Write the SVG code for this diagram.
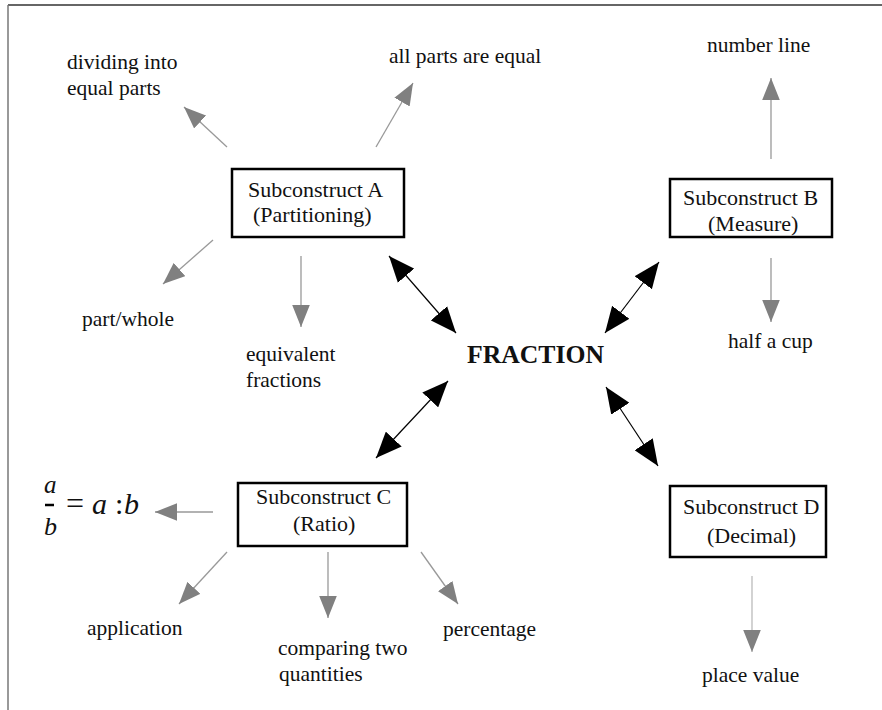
<svg xmlns="http://www.w3.org/2000/svg" width="882" height="710" viewBox="0 0 882 710" font-family="'Liberation Serif', 'Times New Roman', Times, serif">
<style>
text{fill:#111}
.lbl{font-size:21.5px}
.box{font-size:22px}
.fr{font-size:25.7px;font-weight:bold}
.it{font-style:italic}
rect{fill:#fff;stroke:#000;stroke-width:2.5}
.g{stroke:#999;stroke-width:1.3;fill:none;marker-end:url(#gh)}
.b{stroke:#000;stroke-width:1.2;fill:none;marker-start:url(#bh);marker-end:url(#bh)}
</style>
<defs>
<marker id="gh" markerUnits="userSpaceOnUse" markerWidth="22" markerHeight="18" refX="20" refY="8" orient="auto" viewBox="0 0 20 16">
<path d="M0,0 L20,8 L0,16 Z" fill="#808080"/>
</marker>
<marker id="bh" markerUnits="userSpaceOnUse" markerWidth="26" markerHeight="22" refX="24" refY="10" orient="auto-start-reverse" viewBox="0 0 24 20">
<path d="M0,0 L24,10 L0,20 Z" fill="#000"/>
</marker>
</defs>
<g id="frame">
<line x1="8" y1="5" x2="882" y2="5" stroke="#333" stroke-width="1.5"/>
<line x1="8" y1="5" x2="8" y2="710" stroke="#777" stroke-width="1.5"/>
</g>
<g id="connectors">
<line class="g" x1="227" y1="147" x2="184" y2="107"/>
<line class="g" x1="376" y1="147" x2="413" y2="83"/>
<line class="g" x1="213" y1="240" x2="163" y2="284"/>
<line class="g" x1="301" y1="256" x2="301" y2="327"/>
<line class="g" x1="771" y1="159" x2="771" y2="78"/>
<line class="g" x1="771" y1="258" x2="771" y2="322"/>
<line class="g" x1="213" y1="512" x2="155" y2="512"/>
<line class="g" x1="227" y1="552" x2="179" y2="604"/>
<line class="g" x1="328" y1="552" x2="328" y2="618"/>
<line class="g" x1="421" y1="552" x2="458" y2="604"/>
<line class="g" x1="752" y1="576" x2="752" y2="652" style="stroke:#bbb"/>
<line class="b" x1="389" y1="256" x2="456" y2="333"/>
<line class="b" x1="659" y1="262" x2="605" y2="333"/>
<line class="b" x1="448" y1="381" x2="376" y2="458"/>
<line class="b" x1="606" y1="387" x2="658" y2="466"/>
</g>
<g id="fraction"><text class="fr" x="467" y="363">FRACTION</text></g>
<g id="subA">
<rect x="232" y="169" width="172" height="68"/>
<text class="box" x="248" y="197">Subconstruct A</text>
<text class="box" x="253" y="222">(Partitioning)</text>
</g>
<g id="subB">
<rect x="670" y="179" width="162" height="58"/>
<text class="box" x="683" y="205">Subconstruct B</text>
<text class="box" x="708" y="231">(Measure)</text>
</g>
<g id="subC">
<rect x="238" y="483" width="169" height="63"/>
<text class="box" x="256" y="504">Subconstruct C</text>
<text class="box" x="293" y="531">(Ratio)</text>
</g>
<g id="subD">
<rect x="670" y="486" width="156" height="71"/>
<text class="box" x="683" y="514">Subconstruct D</text>
<text class="box" x="707" y="543">(Decimal)</text>
</g>
<g id="dividing"><text class="lbl" x="67" y="69">dividing into</text><text class="lbl" x="67" y="95">equal parts</text></g>
<g id="allparts"><text class="lbl" x="389" y="63">all parts are equal</text></g>
<g id="partwhole"><text class="lbl" x="82" y="326">part/whole</text></g>
<g id="equivalent"><text class="lbl" x="246" y="361">equivalent</text><text class="lbl" x="246" y="387">fractions</text></g>
<g id="numberline"><text class="lbl" x="707" y="52">number line</text></g>
<g id="halfcup"><text class="lbl" x="728" y="348">half a cup</text></g>
<g id="formula">
<text class="it" x="44" y="493" font-size="25">a</text>
<line x1="45" y1="505" x2="54" y2="505" stroke="#000" stroke-width="2.5"/>
<text class="it" x="44" y="535" font-size="26">b</text>
<text x="66" y="514" font-size="32">=</text>
<text class="it" x="92" y="514" font-size="30">a</text>
<text x="115" y="514" font-size="30">:</text>
<text class="it" x="124" y="514" font-size="30">b</text>
</g>
<g id="application"><text class="lbl" x="87" y="635">application</text></g>
<g id="comparing"><text class="lbl" x="278" y="655">comparing two</text><text class="lbl" x="279" y="681">quantities</text></g>
<g id="percentage"><text class="lbl" x="443" y="636">percentage</text></g>
<g id="placevalue"><text class="lbl" x="702" y="682">place value</text></g>
</svg>
